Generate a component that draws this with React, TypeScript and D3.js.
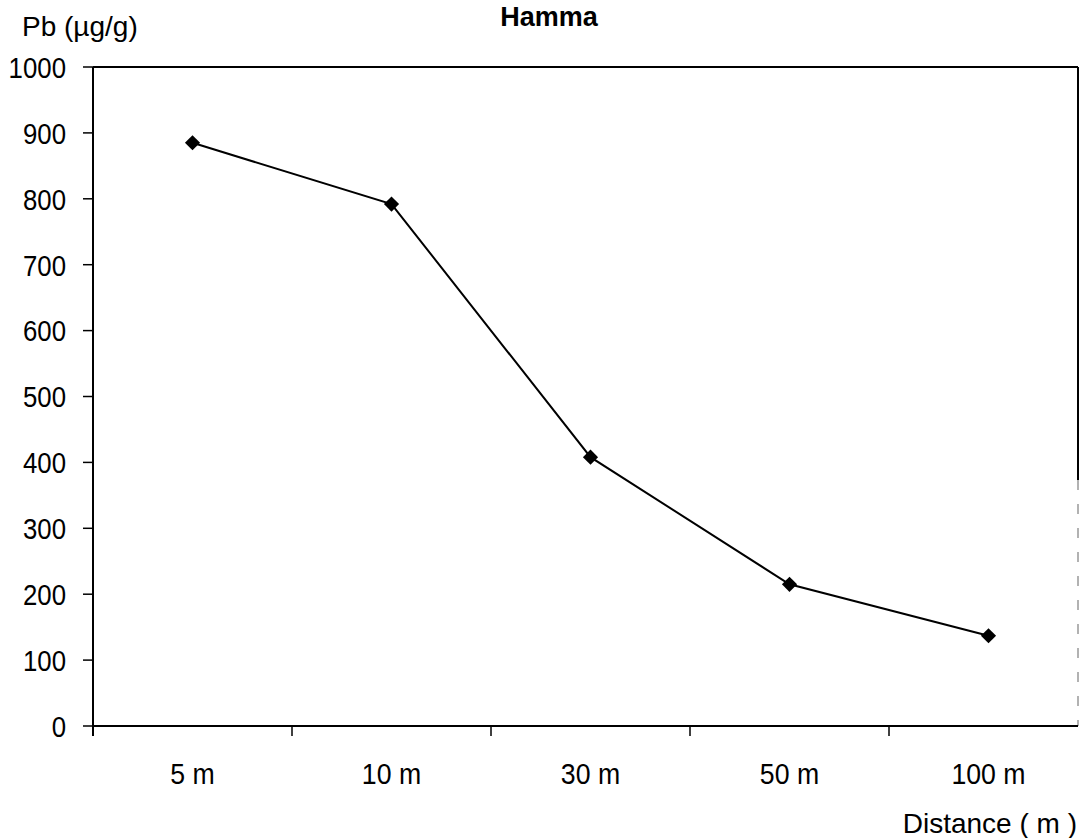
import React from "react";
import * as d3 from "d3";

// Lead concentration vs distance from the road, Hamma site
const distances: string[] = ["5 m", "10 m", "30 m", "50 m", "100 m"];
const leadValues: number[] = [885, 792, 408, 215, 137];
const yTicks: number[] = [0, 100, 200, 300, 400, 500, 600, 700, 800, 900, 1000];

const W = 1081;
const H = 838;
const plotLeft = 93;
const plotTop = 67;
const plotBottom = 726;
const frameRight = 1078;
const bandRight = 1088;

const FONT = "'Liberation Sans', Arial, sans-serif";

export default function App() {
  const x = d3.scaleBand<string>().domain(distances).range([plotLeft, bandRight]).padding(0);
  const y = d3.scaleLinear().domain([0, 1000]).range([plotBottom, plotTop]);

  const points = distances.map((d, i) => ({ d, v: leadValues[i] }));
  const cx = (d: string) => (x(d) as number) + x.bandwidth() / 2;
  const line = d3
    .line<{ d: string; v: number }>()
    .x((p) => cx(p.d))
    .y((p) => y(p.v));

  // square marker turned 45° gives a wide diamond
  const marker = d3.symbol().type(d3.symbolSquare).size(115)();

  // boundaries between categories carry the x tick marks
  const xBoundaries = distances.slice(1).map((d) => x(d) as number);

  return (
    <svg
      width={W}
      height={H}
      style={{ position: "absolute", left: 0, top: 0, background: "#fff" }}
      fontFamily={FONT}
    >
      <rect x={0} y={0} width={W} height={H} fill="#fff" />

      {/* title */}
      <text x={549} y={26} textAnchor="middle" fontSize={27} fontWeight="bold" fill="#000">
        Hamma
      </text>

      {/* y axis title */}
      <text x={22} y={36} fontSize={28} fill="#000">
        Pb (µg/g)
      </text>

      {/* frame: top and right */}
      <line x1={plotLeft} x2={frameRight} y1={plotTop} y2={plotTop} stroke="#000" strokeWidth={2} />
      <line x1={frameRight} x2={frameRight} y1={plotTop} y2={480} stroke="#000" strokeWidth={2} />
      <line
        x1={frameRight}
        x2={frameRight}
        y1={480}
        y2={plotBottom}
        stroke="#999"
        strokeWidth={1.5}
        strokeDasharray="10 14"
      />

      {/* y axis */}
      <line x1={plotLeft} x2={plotLeft} y1={plotTop} y2={plotBottom + 10} stroke="#000" strokeWidth={2} />
      {yTicks.map((t) => (
        <g key={t}>
          <line x1={plotLeft - 10} x2={plotLeft} y1={y(t)} y2={y(t)} stroke="#000" strokeWidth={1.5} />
          <text
            transform={`translate(66,${y(t)}) scale(0.86,1)`}
            dy="0.36em"
            textAnchor="end"
            fontSize={30}
            fill="#000"
          >
            {t}
          </text>
        </g>
      ))}

      {/* x axis */}
      <line x1={plotLeft} x2={frameRight} y1={plotBottom} y2={plotBottom} stroke="#000" strokeWidth={2} />
      {xBoundaries.map((bx, i) => (
        <line key={i} x1={bx} x2={bx} y1={plotBottom} y2={plotBottom + 10} stroke="#000" strokeWidth={1.5} />
      ))}
      {distances.map((d) => (
        <text
          key={d}
          transform={`translate(${cx(d)},784) scale(0.92,1)`}
          textAnchor="middle"
          fontSize={29}
          fill="#000"
        >
          {d}
        </text>
      ))}

      {/* x axis title */}
      <text x={1077} y={833} textAnchor="end" fontSize={28} fill="#000">
        Distance ( m )
      </text>

      {/* data series */}
      <path d={line(points) ?? ""} fill="none" stroke="#000" strokeWidth={2} />
      {points.map((p) => (
        <path
          key={p.d}
          d={marker ?? ""}
          transform={`translate(${cx(p.d)},${y(p.v)}) rotate(45)`}
          fill="#000"
        />
      ))}
    </svg>
  );
}
